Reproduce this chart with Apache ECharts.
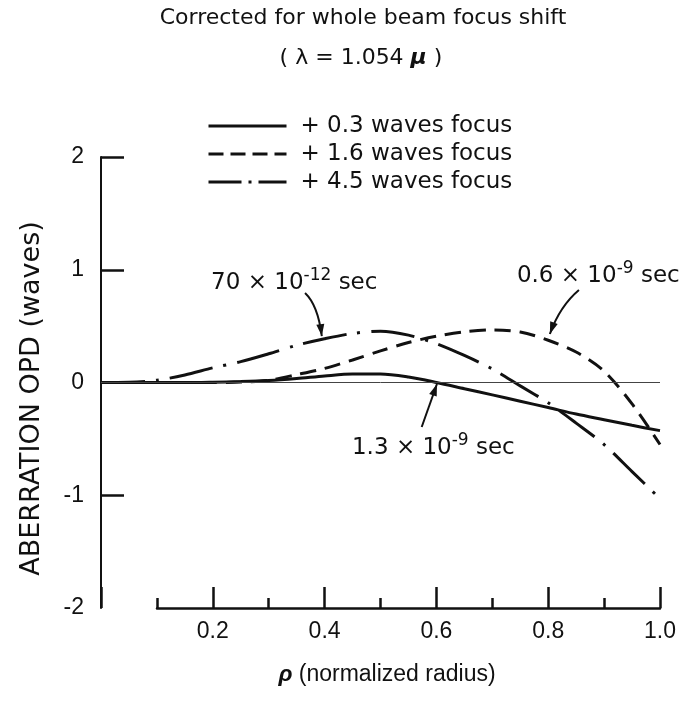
<!DOCTYPE html>
<html>
<head>
<meta charset="utf-8">
<script src="https://cdn.jsdelivr.net/npm/echarts@6/dist/echarts.min.js"></script>
<style>
  html, body { margin: 0; padding: 0; background: #fff; }
  #main { width: 686px; height: 701px; }
</style>
</head>
<body>
<div id="main"></div>
<script>
// normalized radius samples
var rho = [0, 0.05, 0.1, 0.15, 0.2, 0.25, 0.3, 0.35, 0.4, 0.45, 0.5,
           0.55, 0.6, 0.65, 0.7, 0.75, 0.8, 0.85, 0.9, 0.95, 1.0];
// aberration OPD (waves)
var focus03 = [0, 0, 0, 0, 0.003, 0.008, 0.017, 0.035, 0.058, 0.075, 0.075,
               0.048, 0, -0.055, -0.11, -0.166, -0.222, -0.28, -0.33, -0.38, -0.427];
var focus16 = [0, 0, 0, 0, 0, 0.004, 0.02, 0.07, 0.125, 0.2, 0.28,
               0.355, 0.41, 0.45, 0.466, 0.448, 0.375, 0.27, 0.1, -0.19, -0.55];
var focus45 = [0, 0.002, 0.02, 0.067, 0.13, 0.185, 0.255, 0.33, 0.388, 0.435, 0.455,
               0.42, 0.345, 0.24, 0.12, -0.03, -0.18, -0.36, -0.55, -0.79, -1.03];
var seriesNames = ['+ 0.3 waves focus', '+ 1.6 waves focus', '+ 4.5 waves focus'];
var yTicks = [-2, -1, 0, 1, 2];

// callouts: text anchor, arrow start, control point, arrow tip (data coords)
var notes = [
    { text: '70 × 10{sup|-12} sec', at: [0.197, 0.8825], from: [0.365, 0.794], ctrl: [0.388, 0.687], to: [0.395, 0.412] },
    { text: '0.6 × 10{sup|-9} sec', at: [0.744, 0.945], from: [0.855, 0.82], ctrl: [0.821, 0.678], to: [0.803, 0.43] },
    { text: '1.3 × 10{sup|-9} sec', at: [0.449, -0.581], from: [0.5737, -0.395], ctrl: null, to: [0.601, -0.013] }
];

var ink = '#111';
var sans = 'DejaVu Sans';
var helv = 'Liberation Sans';

function pairs(ys) {
    return rho.map(function (r, i) { return [r, ys[i]]; });
}

var myChart = echarts.init(document.getElementById('main'));

var option = {
    animation: false,
    title: [
        {
            text: 'Corrected for whole beam focus shift',
            left: 358, top: 2, textAlign: 'center',
            textStyle: { fontFamily: sans, fontSize: 22, fontWeight: 'normal', color: ink }
        },
        {
            text: '( λ = 1.054 {m|μ} )',
            left: 356, top: 42, textAlign: 'center',
            textStyle: {
                fontFamily: sans, fontSize: 22, fontWeight: 'normal', color: ink,
                rich: { m: { fontFamily: sans, fontSize: 22, fontWeight: 'bold', fontStyle: 'italic', color: ink } }
            }
        }
    ],
    legend: {
        orient: 'vertical',
        left: 202, top: 109,
        itemWidth: 78, itemHeight: 14, itemGap: 4,
        selectedMode: false,
        itemStyle: { opacity: 0 },
        lineStyle: { width: 3 },
        textStyle: { fontFamily: sans, fontSize: 23, color: ink, lineHeight: 24, padding: [0, 0, 0, 9] },
        data: [
            { name: seriesNames[0] },
            { name: seriesNames[1], lineStyle: { type: [15, 7] } },
            { name: seriesNames[2], lineStyle: { type: [33, 7, 3, 7] } }
        ]
    },
    grid: [
        { left: 101, right: 26, top: 157, bottom: 93 },
        { left: 157, right: 26, top: 157, bottom: 93 }
    ],
    xAxis: [
        {
            gridIndex: 0, type: 'value', min: 0, max: 1, interval: 0.2,
            axisLine: { show: false, onZero: false },
            axisTick: { show: true, inside: true, length: 21, lineStyle: { color: ink, width: 2.5 } },
            minorTick: { show: true, splitNumber: 2, length: 10, lineStyle: { color: ink, width: 2.5 } },
            splitLine: { show: false },
            axisLabel: {
                margin: 12, fontFamily: helv, fontSize: 23, color: ink,
                formatter: function (v) { return v === 0 ? '' : v.toFixed(1); }
            },
            name: '{r|ρ} (normalized radius)',
            nameLocation: 'middle', nameGap: 55,
            nameTextStyle: {
                fontFamily: helv, fontSize: 23, color: ink, padding: [0, 0, 0, 13],
                rich: { r: { fontFamily: helv, fontSize: 23, fontWeight: 'bold', fontStyle: 'italic', color: ink } }
            }
        },
        {
            gridIndex: 1, type: 'value', min: 0.1, max: 1,
            axisLine: { show: true, onZero: false, lineStyle: { color: ink, width: 2.5 } },
            axisTick: { show: false },
            axisLabel: { show: false },
            splitLine: { show: false }
        }
    ],
    yAxis: [
        {
            gridIndex: 0, type: 'value', min: -2, max: 2, interval: 1,
            axisLine: { show: true, onZero: false, lineStyle: { color: ink, width: 2 } },
            axisTick: { show: true, inside: true, length: 23, customValues: [-1, 0, 1, 2], lineStyle: { color: ink, width: 2.5 } },
            splitLine: { show: false },
            axisLabel: { margin: 17, fontFamily: helv, fontSize: 23, color: ink, customValues: yTicks },
            name: 'ABERRATION OPD (waves)',
            nameLocation: 'middle', nameGap: 56, nameRotate: 90,
            nameTextStyle: { fontFamily: sans, fontSize: 27, color: ink, padding: [0, 32, 0, 0] }
        },
        { gridIndex: 1, type: 'value', min: -2, max: 2, show: false }
    ],
    series: [
        {
            name: seriesNames[0], type: 'line', xAxisIndex: 0, yAxisIndex: 0,
            smooth: 0.3, symbol: 'none',
            lineStyle: { color: ink, width: 3, type: 'solid' },
            itemStyle: { color: ink },
            data: pairs(focus03),
            markLine: {
                silent: true, symbol: ['none', 'none'],
                label: { show: false },
                lineStyle: { color: '#444', width: 1, type: 'solid' },
                data: [{ yAxis: 0 }]
            }
        },
        {
            name: seriesNames[1], type: 'line', xAxisIndex: 0, yAxisIndex: 0,
            smooth: 0.3, symbol: 'none',
            lineStyle: { color: ink, width: 3, type: [16, 9] },
            itemStyle: { color: ink },
            data: pairs(focus16)
        },
        {
            name: seriesNames[2], type: 'line', xAxisIndex: 0, yAxisIndex: 0,
            smooth: 0.3, symbol: 'none',
            lineStyle: { color: ink, width: 3, type: [44, 11, 3, 11] },
            itemStyle: { color: ink },
            data: pairs(focus45)
        }
    ]
};

myChart.setOption(option);

// callout texts and arrows, placed through the grid's own scale
var graphics = [];
notes.forEach(function (n) {
    var at = myChart.convertToPixel({ gridIndex: 0 }, n.at);
    var p0 = myChart.convertToPixel({ gridIndex: 0 }, n.from);
    var p2 = myChart.convertToPixel({ gridIndex: 0 }, n.to);
    graphics.push({
        type: 'text', x: at[0], y: at[1], silent: true,
        style: {
            text: n.text, fill: ink, fontFamily: sans, fontSize: 23,
            align: 'left', verticalAlign: 'middle',
            rich: { sup: { fontFamily: sans, fontSize: 17, lineHeight: 17, padding: [0, 0, 14, 0], fill: ink } }
        }
    });
    var back;
    if (n.ctrl) {
        var p1 = myChart.convertToPixel({ gridIndex: 0 }, n.ctrl);
        graphics.push({
            type: 'bezierCurve', silent: true,
            shape: { x1: p0[0], y1: p0[1], cpx1: p1[0], cpy1: p1[1], x2: p2[0], y2: p2[1] },
            style: { stroke: ink, lineWidth: 2, fill: null }
        });
        back = p1;
    } else {
        graphics.push({
            type: 'line', silent: true,
            shape: { x1: p0[0], y1: p0[1], x2: p2[0], y2: p2[1] },
            style: { stroke: ink, lineWidth: 2 }
        });
        back = p0;
    }
    var dx = p2[0] - back[0], dy = p2[1] - back[1];
    var len = Math.sqrt(dx * dx + dy * dy);
    dx /= len; dy /= len;
    var L = 12, W = 4;
    graphics.push({
        type: 'polygon', silent: true,
        shape: { points: [
            [p2[0], p2[1]],
            [p2[0] - dx * L - dy * W, p2[1] - dy * L + dx * W],
            [p2[0] - dx * L + dy * W, p2[1] - dy * L - dx * W]
        ] },
        style: { fill: ink }
    });
});
myChart.setOption({ graphic: graphics });
</script>
</body>
</html>
